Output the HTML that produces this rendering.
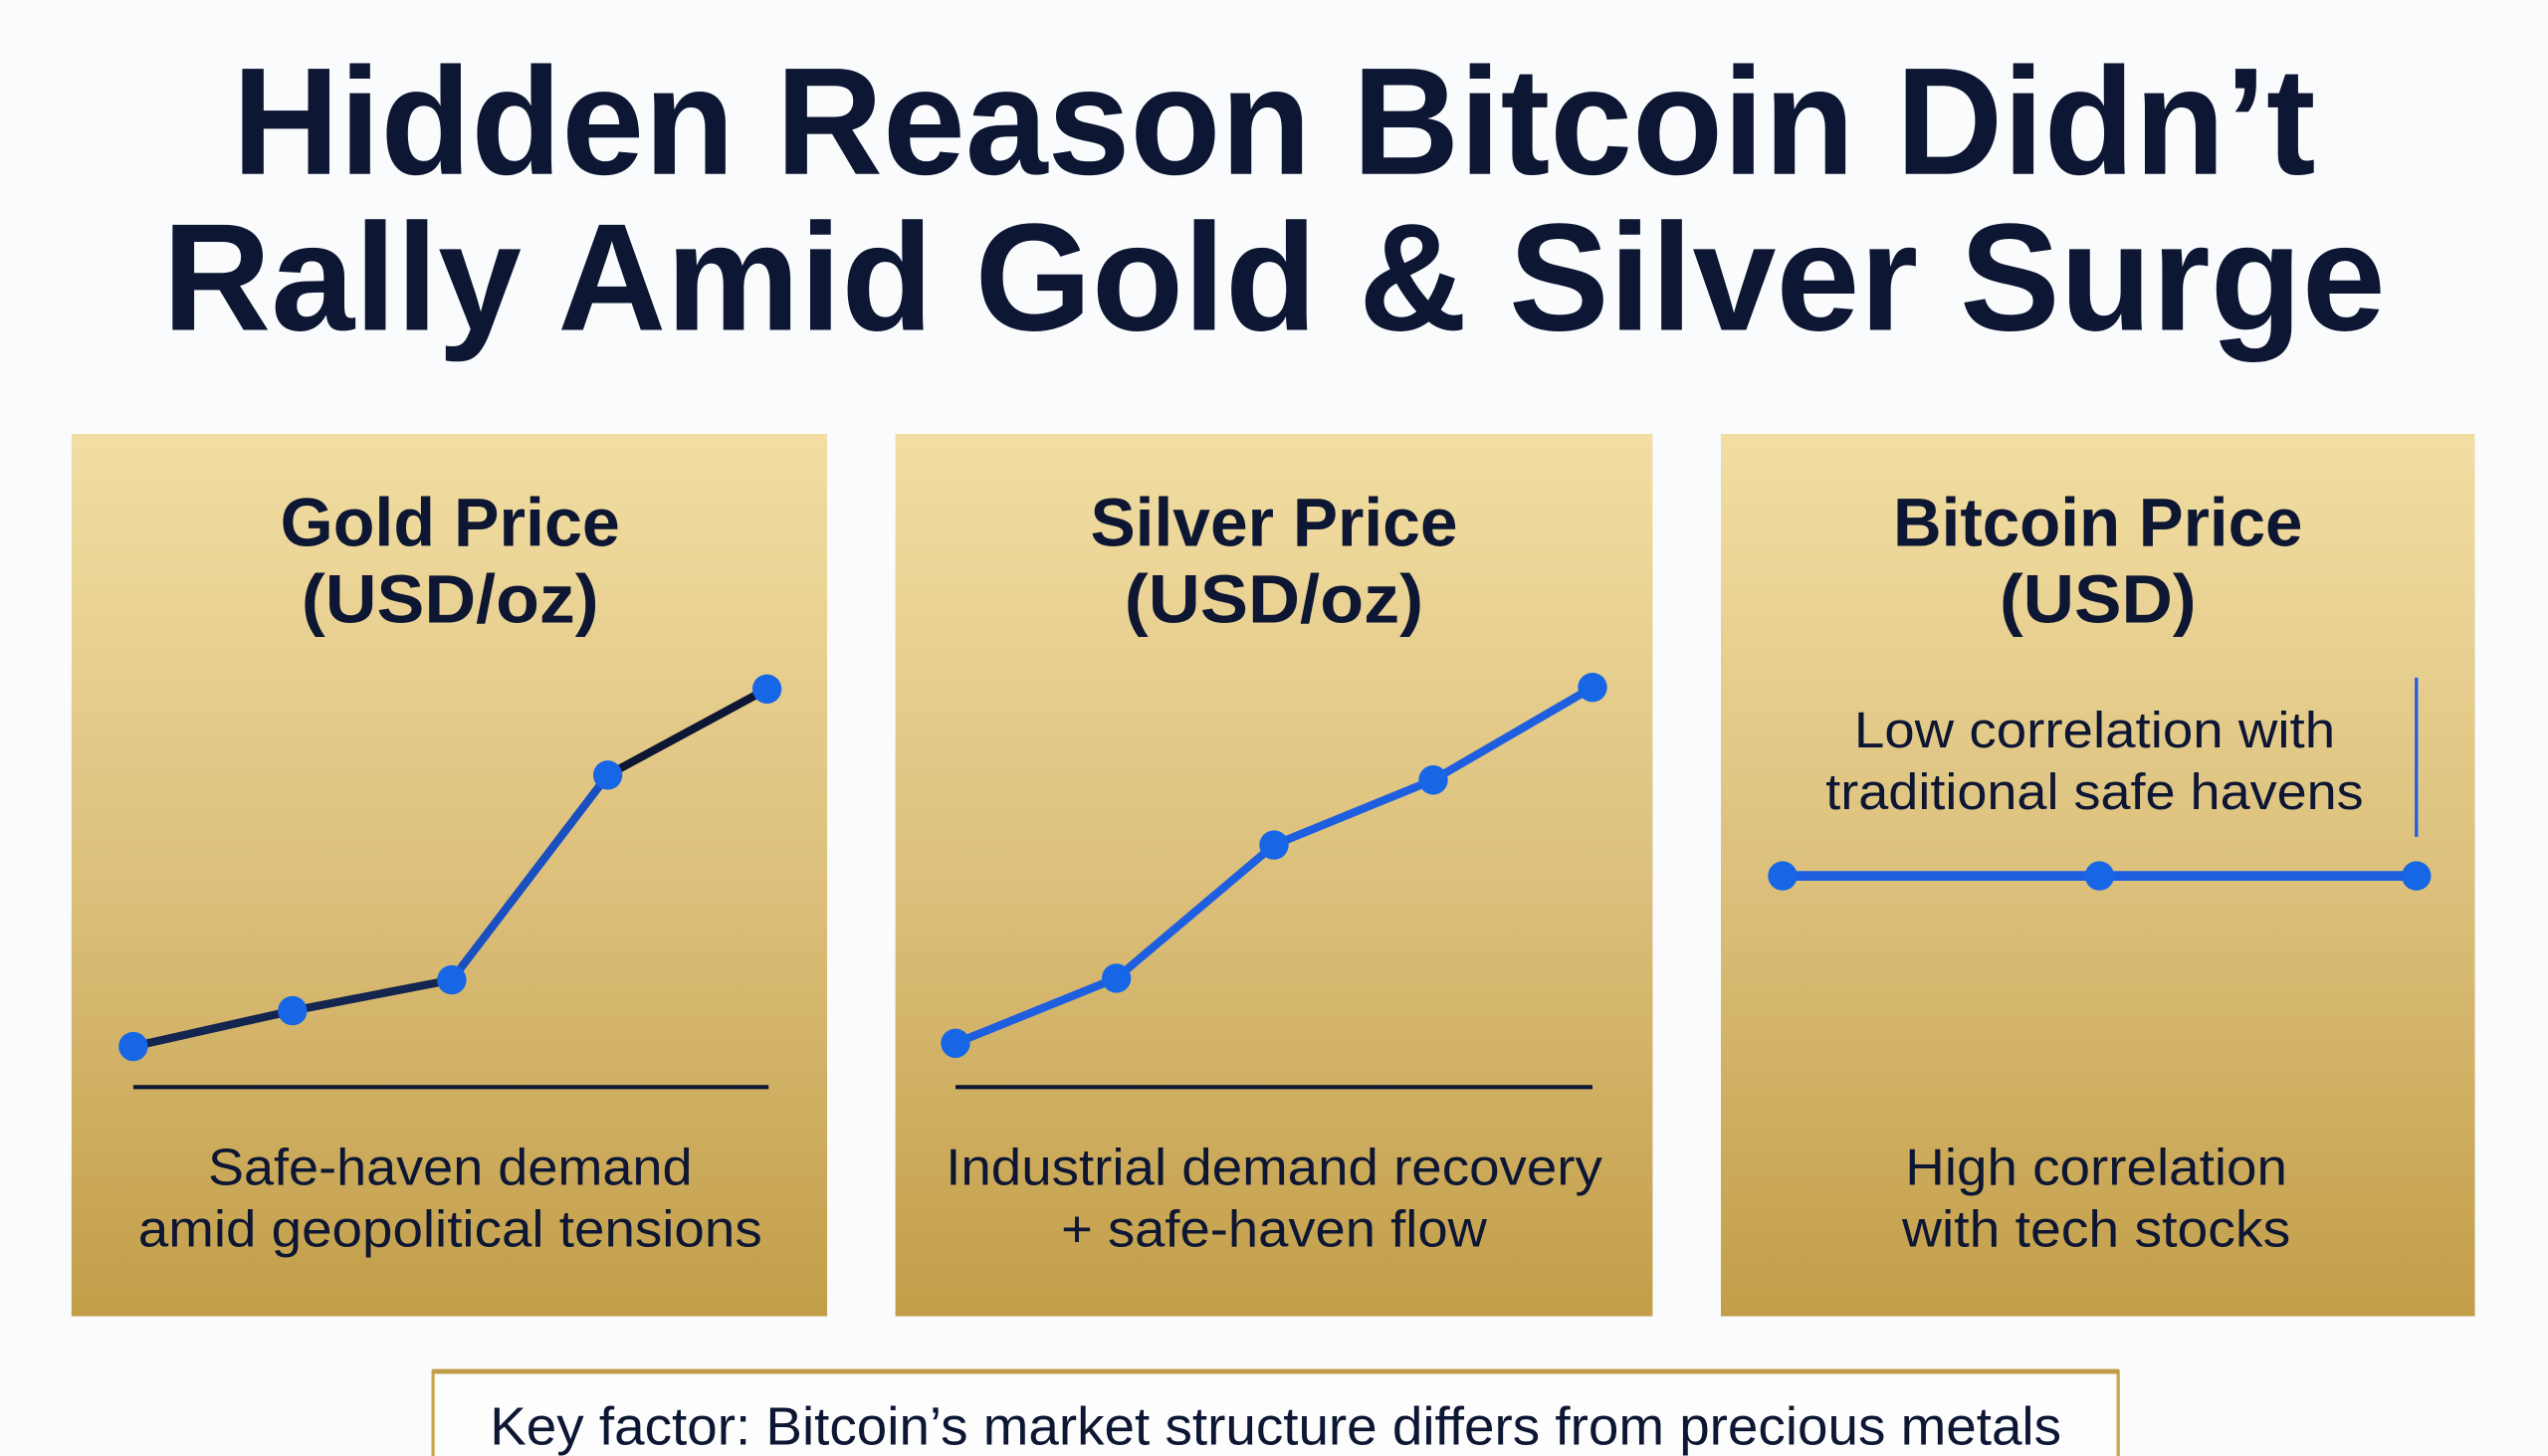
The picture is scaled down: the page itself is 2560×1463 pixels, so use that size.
<!DOCTYPE html>
<html><head><meta charset="utf-8"><style>
html,body{margin:0;padding:0;background:#fafbfc;}
svg{display:block}
text{font-family:"Liberation Sans",sans-serif;fill:#0d1633;}
</style></head><body>
<svg width="2560" height="1463" viewBox="0 0 1568 896" preserveAspectRatio="none" xmlns="http://www.w3.org/2000/svg">
<defs>
<linearGradient id="g" x1="0" y1="0" x2="0" y2="1">
<stop offset="0" stop-color="#f2dea3"/>
<stop offset="0.5" stop-color="#dcc07c"/>
<stop offset="1" stop-color="#c29e48"/>
</linearGradient>
</defs>
<rect width="1568" height="896" fill="#fafbfc"/>
<text x="784" y="107" text-anchor="middle" font-size="94" font-weight="bold" textLength="1282" lengthAdjust="spacingAndGlyphs">Hidden Reason Bitcoin Didn’t</text>
<text x="784" y="203" text-anchor="middle" font-size="94" font-weight="bold" textLength="1368" lengthAdjust="spacingAndGlyphs">Rally Amid Gold &amp; Silver Surge</text>

<rect x="44" y="267" width="465" height="543" fill="url(#g)"/>
<rect x="551" y="267" width="466" height="543" fill="url(#g)"/>
<rect x="1059" y="267" width="464" height="543" fill="url(#g)"/>

<g font-weight="bold" font-size="42" text-anchor="middle">
<text x="277" y="336" textLength="209" lengthAdjust="spacingAndGlyphs">Gold Price</text>
<text x="277" y="383" textLength="183" lengthAdjust="spacingAndGlyphs">(USD/oz)</text>
<text x="784" y="336" textLength="226" lengthAdjust="spacingAndGlyphs">Silver Price</text>
<text x="784" y="383" textLength="184" lengthAdjust="spacingAndGlyphs">(USD/oz)</text>
<text x="1291" y="336" textLength="252" lengthAdjust="spacingAndGlyphs">Bitcoin Price</text>
<text x="1291" y="383" textLength="121" lengthAdjust="spacingAndGlyphs">(USD)</text>
</g>

<!-- Gold chart -->
<line x1="82" y1="669" x2="473" y2="669" stroke="#0d1633" stroke-width="2.5"/>
<polyline points="82,644 180,622 278,603" fill="none" stroke="#14254f" stroke-width="5"/>
<polyline points="278,603 374,477" fill="none" stroke="#1a4fc0" stroke-width="5"/>
<polyline points="374,477 472,424" fill="none" stroke="#0d1633" stroke-width="5"/>
<g fill="#1766e6">
<circle cx="82" cy="644" r="9"/><circle cx="180" cy="622" r="9"/><circle cx="278" cy="603" r="9"/><circle cx="374" cy="477" r="9"/><circle cx="472" cy="424" r="9"/>
</g>

<!-- Silver chart -->
<line x1="588" y1="669" x2="980" y2="669" stroke="#0d1633" stroke-width="2.5"/>
<polyline points="588,642 687,602 784,520 882,480 980,423" fill="none" stroke="#1e5fe0" stroke-width="5"/>
<g fill="#1766e6">
<circle cx="588" cy="642" r="9"/><circle cx="687" cy="602" r="9"/><circle cx="784" cy="520" r="9"/><circle cx="882" cy="480" r="9"/><circle cx="980" cy="423" r="9"/>
</g>

<!-- Bitcoin chart -->
<line x1="1487" y1="417" x2="1487" y2="515" stroke="#1e5fe0" stroke-width="2"/>
<line x1="1097" y1="539" x2="1487" y2="539" stroke="#1e5fe0" stroke-width="6"/>
<g fill="#1766e6">
<circle cx="1097" cy="539" r="9"/><circle cx="1292" cy="539" r="9"/><circle cx="1487" cy="539" r="9"/>
</g>
<g font-size="31" text-anchor="middle">
<text x="1289" y="460" textLength="296" lengthAdjust="spacingAndGlyphs">Low correlation with</text>
<text x="1289" y="498" textLength="331" lengthAdjust="spacingAndGlyphs">traditional safe havens</text>
</g>

<g font-size="32" text-anchor="middle">
<text x="277" y="729" textLength="298" lengthAdjust="spacingAndGlyphs">Safe-haven demand</text>
<text x="277" y="767" textLength="384" lengthAdjust="spacingAndGlyphs">amid geopolitical tensions</text>
<text x="784" y="729" textLength="404" lengthAdjust="spacingAndGlyphs">Industrial demand recovery</text>
<text x="784" y="767" textLength="262" lengthAdjust="spacingAndGlyphs">+ safe-haven flow</text>
<text x="1290" y="729" textLength="235" lengthAdjust="spacingAndGlyphs">High correlation</text>
<text x="1290" y="767" textLength="239" lengthAdjust="spacingAndGlyphs">with tech stocks</text>
</g>

<!-- Key box -->
<rect x="266.5" y="844" width="1037" height="60" fill="#fdfdfd" stroke="#c8a650" stroke-width="2"/>
<line x1="266" y1="844" x2="1304" y2="844" stroke="#bf9c45" stroke-width="3"/>
<text x="785" y="889" text-anchor="middle" font-size="33" textLength="967" lengthAdjust="spacingAndGlyphs">Key factor: Bitcoin’s market structure differs from precious metals</text>
</svg>
</body></html>
